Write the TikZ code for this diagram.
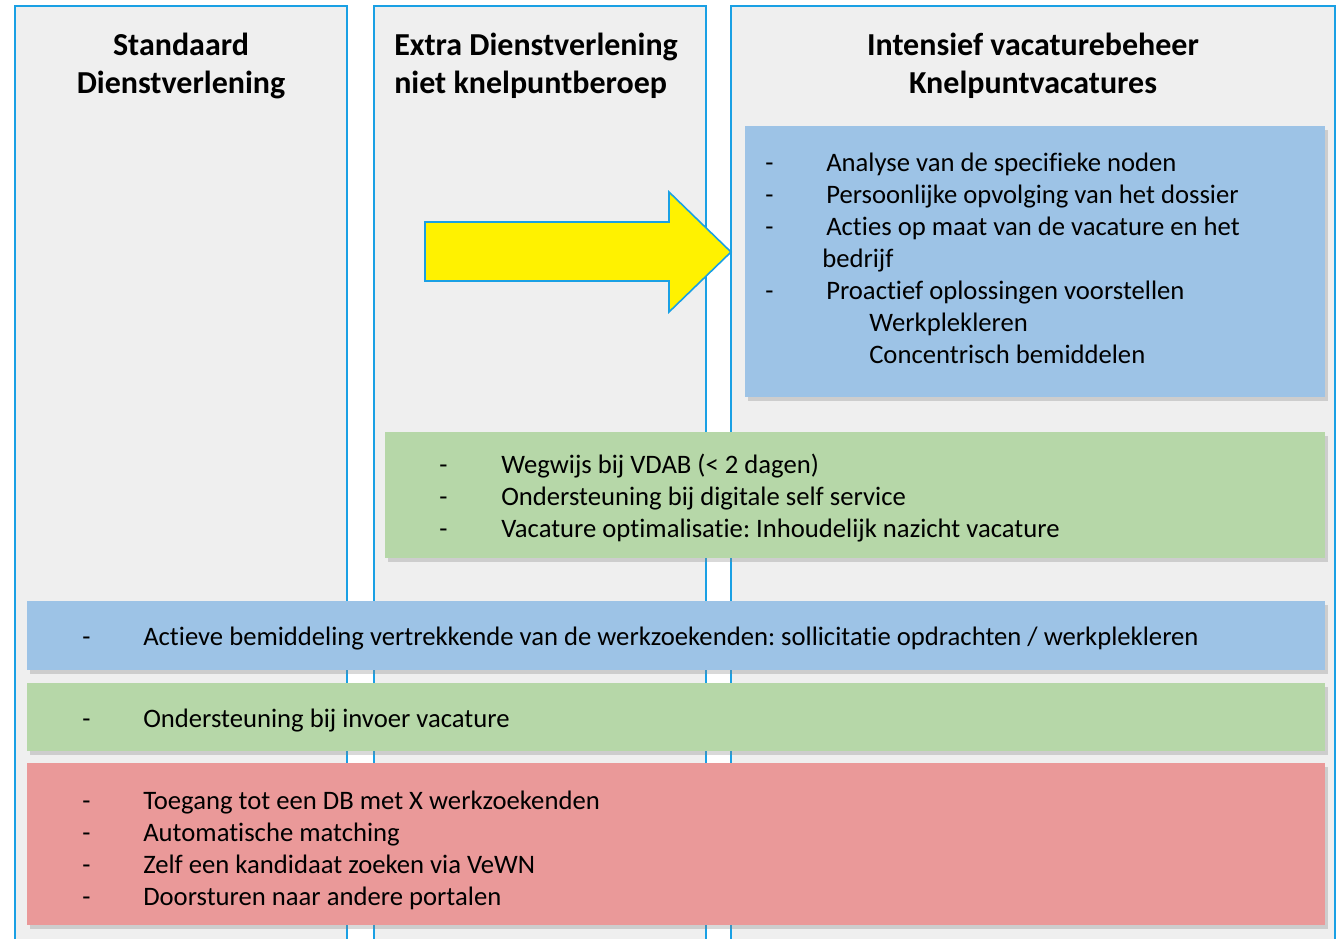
\documentclass[tikz,border=0pt]{standalone}
\usepackage{fontspec}
\setmainfont{Carlito}[Ligatures=NoCommon]
\usetikzlibrary{shadows}

\definecolor{colfill}{HTML}{EFEFEF}
\definecolor{colline}{HTML}{1AA0E4}
\definecolor{lblue}{HTML}{9DC3E6}
\definecolor{lgreen}{HTML}{B6D7A8}
\definecolor{lred}{HTML}{EA9999}

\begin{document}
\frenchspacing
\begin{tikzpicture}[x=0.75pt, y=-0.75pt,
    column/.style={fill=colfill, draw=colline, line width=1.5pt},
    band/.style={drop shadow={shadow xshift=2pt, shadow yshift=-3pt, opacity=0.3}},
    head/.style={font=\fontsize{24}{28.5}\selectfont\bfseries, align=center},
    item/.style={font=\fontsize{20}{24}\selectfont, anchor=west, inner sep=0pt, text height=0.7em, text depth=0.2em, yshift=-4.5pt},
    bulletmark/.style={item}]
    \useasboundingbox (0, 0) rectangle (1339, 939);
    \begin{scope}
    \clip (0, 0) rectangle (1339, 939);
    % columns
    \draw[column] (15, 6) rectangle (347, 960);
    \draw[column] (374, 6) rectangle (706, 960);
    \draw[column] (731, 6) rectangle (1335, 960);
    \end{scope}
    \node[head] (hstd) at (181, 66) {Standaard\\Dienstverlening};
    \node[head, align=left, anchor=west, inner sep=0pt] (hextra) at (394, 66) {Extra Dienstverlening\\niet knelpuntberoep};
    \node[head] (hint) at (1033, 66) {Intensief vacaturebeheer\\Knelpuntvacatures};

    % arrow
    \draw[fill=yellow, draw=colline, line width=1.2pt] (425, 222) -- (669, 222) -- (669, 192) -- (731, 252) -- (669, 312) -- (669, 281) -- (425, 281) -- cycle;

    % bands
    \fill[lblue, band] (745, 126) rectangle (1325, 397);
    \fill[lgreen, band] (385, 432) rectangle (1325, 558);
    \fill[lblue, band] (27, 601) rectangle (1325, 670);
    \fill[lgreen, band] (27, 683) rectangle (1325, 751);
    \fill[lred, band] (27, 763) rectangle (1325, 925);

    % intensief
    \foreach \y/\t [count=\i] in {162/Analyse van de specifieke noden, 194/Persoonlijke opvolging van het dossier, 226/Acties op maat van de vacature en het, 290/Proactief oplossingen voorstellen} {
        \node[bulletmark] (da\i) at (765, \y) {-};
        \node[item] (ta\i) at (826, \y) {\t};
    }
    \node[item] (tbedrijf) at (822, 258) {bedrijf};
    \node[item] (twerk) at (869, 322) {Werkplekleren};
    \node[item] (tconc) at (869, 354) {Concentrisch bemiddelen};

    % extra
    \foreach \y/\t [count=\i] in {464/Wegwijs bij VDAB (< 2 dagen), 496/Ondersteuning bij digitale self service, 528/Vacature optimalisatie: Inhoudelijk nazicht vacature} {
        \node[bulletmark] (de\i) at (439, \y) {-};
        \node[item] (te\i) at (501, \y) {\t};
    }

    % standaard
    \node[bulletmark] (dact) at (82, 636) {-};
    \node[item] (tact) at (143, 636) {Actieve bemiddeling vertrekkende van de werkzoekenden: sollicitatie opdrachten / werkplekleren};
    \node[bulletmark] (dinv) at (82, 718) {-};
    \node[item] (tinv) at (143, 718) {Ondersteuning bij invoer vacature};
    \foreach \y/\t [count=\i] in {800/Toegang tot een DB met X werkzoekenden, 832/Automatische matching, 864/Zelf een kandidaat zoeken via VeWN, 896/Doorsturen naar andere portalen} {
        \node[bulletmark] (ds\i) at (82, \y) {-};
        \node[item] (ts\i) at (143, \y) {\t};
    }
\end{tikzpicture}
\end{document}
